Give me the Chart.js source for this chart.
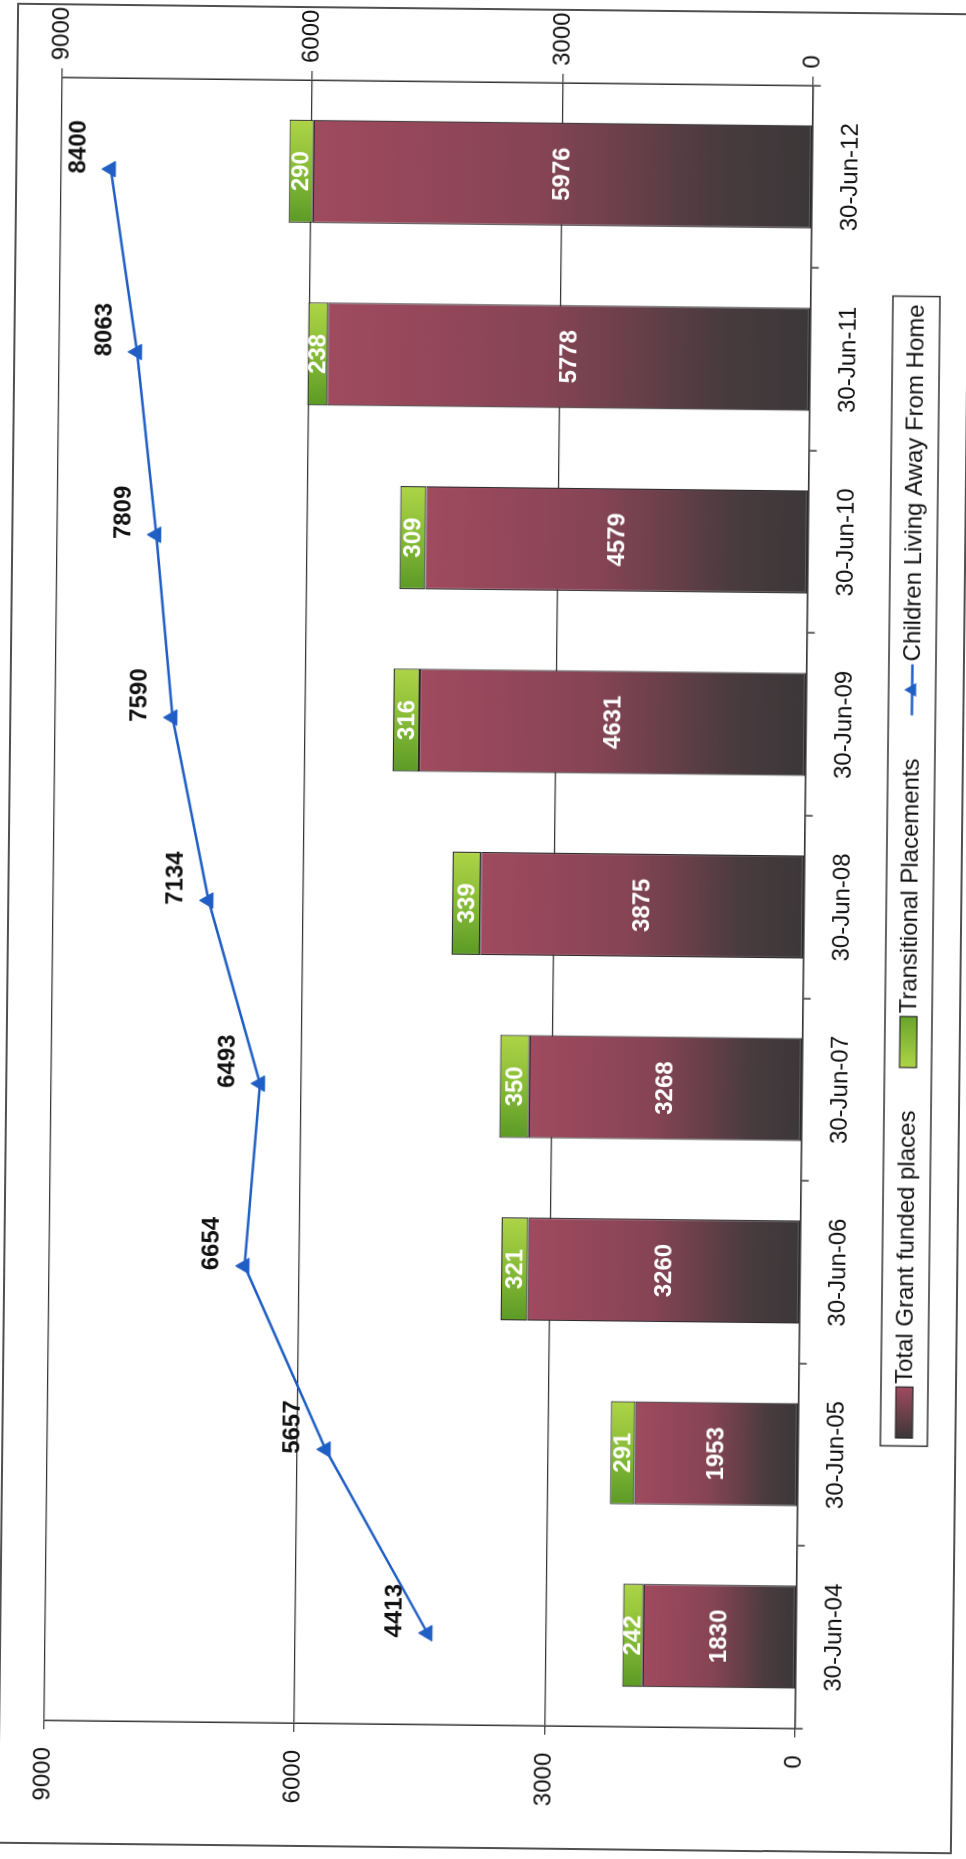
<!DOCTYPE html>
<html>
<head>
<meta charset="utf-8">
<script src="https://cdn.jsdelivr.net/npm/chart.js@4.4.1/dist/chart.umd.min.js"></script>
<style>
    html, body { margin: 0; padding: 0; background: #fff; width: 966px; height: 1859px; overflow: hidden; }
    /* the scanned chart lies on its side, slightly skewed */
    #frame {
        position: absolute;
        left: -436px;
        top: 450.5px;
        width: 1837px;
        height: 951px;
        border: 2px solid #505050;
        background: #fff;
        transform: rotate(-89.37deg);
        transform-origin: 50% 50%;
    }
    canvas { display: block; }
</style>
</head>
<body>
<div id="frame"><canvas id="chart" width="1850" height="951"></canvas></div>
<script>
const categories = ['30-Jun-04', '30-Jun-05', '30-Jun-06', '30-Jun-07', '30-Jun-08',
                    '30-Jun-09', '30-Jun-10', '30-Jun-11', '30-Jun-12'];
const grantPlaces = [1830, 1953, 3260, 3268, 3875, 4631, 4579, 5778, 5976];
const transitional = [242, 291, 321, 350, 339, 316, 309, 238, 290];
const childrenAway = [4413, 5657, 6654, 6493, 7134, 7590, 7809, 8063, 8400];
const valueTicks = [0, 3000, 6000, 9000];

const FONT = '"Liberation Sans", Arial, sans-serif';
const lineBlue = '#1f5ec4';
const axisColor = '#333';
const BAR_PCT = 0.565;

Chart.defaults.font.family = FONT;
Chart.defaults.font.size = 24;
Chart.defaults.color = '#111';

// maroon fading to dark grey towards the base of each bar
function grantFill(context) {
    const chart = context.chart;
    if (!chart.chartArea || context.raw == null) return '#874455';
    const y = chart.scales.y;
    const base = y.getPixelForValue(0);
    const top = y.getPixelForValue(context.raw);
    const g = chart.ctx.createLinearGradient(0, base, 0, top);
    g.addColorStop(0, '#3b3738');
    g.addColorStop(0.2, '#4a3b3f');
    g.addColorStop(0.35, '#663f49');
    g.addColorStop(0.55, '#864455');
    g.addColorStop(1, '#a04a5e');
    return g;
}

// green, lighter on one side of the bar
function transFill(context) {
    const chart = context.chart;
    if (!chart.chartArea) return '#8cc038';
    const x = chart.scales.x;
    const xc = x.getPixelForValue(context.dataIndex);
    const half = x.width / categories.length * BAR_PCT / 2;
    const g = chart.ctx.createLinearGradient(xc - half, 0, xc + half, 0);
    g.addColorStop(0, '#5c9a26');
    g.addColorStop(0.5, '#86bb36');
    g.addColorStop(1, '#aed446');
    return g;
}

const valueLabels = {
    id: 'valueLabels',
    afterDatasetsDraw(chart) {
        const c = chart.ctx;
        c.save();
        c.font = 'bold 24px ' + FONT;
        c.textAlign = 'center';
        chart.data.datasets.forEach((ds, di) => {
            const meta = chart.getDatasetMeta(di);
            meta.data.forEach((el, i) => {
                const v = ds.data[i];
                if (ds.type === 'line') {
                    c.fillStyle = '#111';
                    c.textBaseline = 'alphabetic';
                    c.fillText(String(v), el.x + 22, el.y - 26);
                } else {
                    c.fillStyle = '#fff';
                    c.textBaseline = 'middle';
                    c.fillText(String(v), el.x, (el.y + el.base) / 2 + 1);
                }
            });
        });
        c.restore();
    }
};

// boxed legend under the plot
const boxLegend = {
    id: 'boxLegend',
    afterDraw(chart) {
        const c = chart.ctx;
        const centre = 980.5, top = 877, h = 47;
        const keyW = 51, keyH = 17, keyGap = 3, pad = 8, itemGap = 43;
        c.save();
        c.font = '24px ' + FONT;
        const items = chart.data.datasets.map(ds => ({ ds, w: c.measureText(ds.label).width }));
        let total = pad * 2 + itemGap * (items.length - 1);
        items.forEach(it => { total += keyW + keyGap + it.w; });
        const left = centre - total / 2;
        c.strokeStyle = axisColor;
        c.lineWidth = 1.5;
        c.strokeRect(left, top, total, h);
        let x = left + pad;
        const mid = top + h / 2;
        items.forEach(it => {
            if (it.ds.type === 'line') {
                c.strokeStyle = lineBlue;
                c.lineWidth = 2.5;
                c.beginPath();
                c.moveTo(x, mid);
                c.lineTo(x + keyW, mid);
                c.stroke();
                c.fillStyle = lineBlue;
                const r = 8, px = x + keyW / 2;
                c.beginPath();
                c.moveTo(px, mid - r);
                c.lineTo(px + r * 0.866, mid + r / 2);
                c.lineTo(px - r * 0.866, mid + r / 2);
                c.closePath();
                c.fill();
            } else {
                const g = c.createLinearGradient(x, 0, x + keyW, 0);
                if (it.ds.label.startsWith('Total')) {
                    g.addColorStop(0, '#3b3738');
                    g.addColorStop(1, '#a04a5e');
                } else {
                    g.addColorStop(0, '#aed446');
                    g.addColorStop(1, '#6aa42c');
                }
                c.fillStyle = g;
                c.fillRect(x, mid - keyH / 2, keyW, keyH);
                c.strokeStyle = '#2b2b2b';
                c.lineWidth = 1.2;
                c.strokeRect(x, mid - keyH / 2, keyW, keyH);
            }
            x += keyW + keyGap;
            c.fillStyle = '#111';
            c.textAlign = 'left';
            c.textBaseline = 'middle';
            c.fillText(it.ds.label, x, mid + 1);
            x += it.w + itemGap;
        });
        c.restore();
    }
};

const setTicks = scale => { scale.ticks = valueTicks.map(v => ({ value: v })); };
const plainNumber = v => String(v);

new Chart(document.getElementById('chart'), {
    type: 'bar',
    data: {
        labels: categories,
        datasets: [
            {
                label: 'Total Grant funded places',
                data: grantPlaces,
                backgroundColor: grantFill,
                borderColor: '#2b2b2b',
                borderWidth: 1.2,
                borderSkipped: false,
                categoryPercentage: 1,
                barPercentage: BAR_PCT,
                order: 2
            },
            {
                label: 'Transitional Placements',
                data: transitional,
                backgroundColor: transFill,
                borderColor: '#2b2b2b',
                borderWidth: 1.2,
                borderSkipped: false,
                categoryPercentage: 1,
                barPercentage: BAR_PCT,
                order: 2
            },
            {
                type: 'line',
                label: 'Children Living Away From Home',
                data: childrenAway,
                yAxisID: 'y1',
                borderColor: lineBlue,
                backgroundColor: lineBlue,
                borderWidth: 2.5,
                pointStyle: 'triangle',
                pointRadius: 9,
                pointBorderWidth: 1,
                tension: 0,
                order: 1
            }
        ]
    },
    options: {
        responsive: false,
        animation: false,
        layout: { padding: { top: 43.5, left: 0, right: 0, bottom: 0 } },
        scales: {
            x: {
                stacked: true,
                offset: true,
                grid: { offset: true, drawOnChartArea: false, tickLength: 8, color: axisColor, lineWidth: 1.5 },
                border: { color: axisColor, width: 1.5 },
                ticks: { padding: 16, maxRotation: 0, autoSkip: false },
                afterFit: s => { s.height = 156.5; }
            },
            y: {
                stacked: true,
                position: 'left',
                min: 0,
                max: 9000,
                afterBuildTicks: setTicks,
                grid: { color: axisColor, lineWidth: 1.2, tickLength: 9 },
                border: { color: axisColor, width: 1.5 },
                ticks: { padding: 18, callback: plainNumber },
                afterFit: s => { s.width = 122; }
            },
            y1: {
                position: 'right',
                min: 0,
                max: 9000,
                afterBuildTicks: setTicks,
                grid: { drawOnChartArea: false, color: axisColor, lineWidth: 1.2, tickLength: 9 },
                border: { color: axisColor, width: 1.5 },
                ticks: { padding: 8, callback: plainNumber },
                afterFit: s => { s.width = 85; }
            }
        },
        plugins: {
            legend: { display: false },
            tooltip: { enabled: false }
        }
    },
    plugins: [valueLabels, boxLegend]
});
</script>
</body>
</html>
